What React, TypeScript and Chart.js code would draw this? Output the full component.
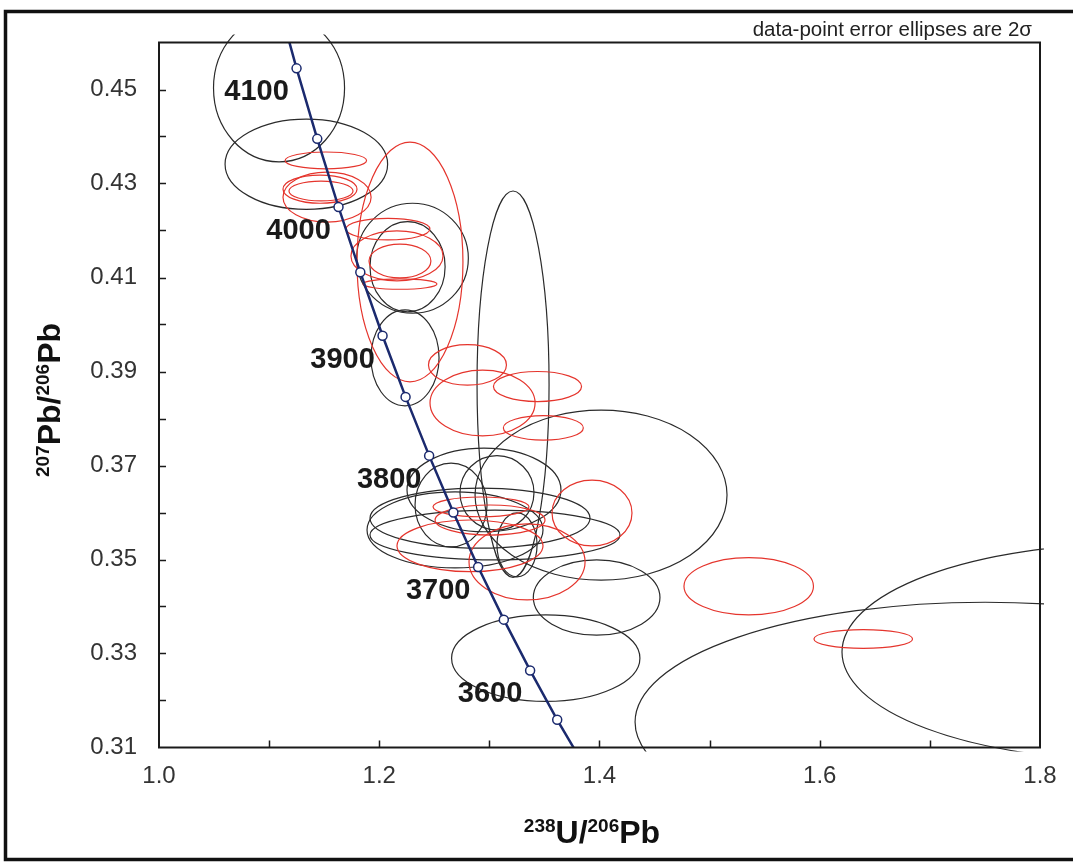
import React, { useEffect, useRef } from 'react';
import { Chart, registerables } from 'chart.js';

Chart.register(...registerables);

// Concordia curve (Tera-Wasserburg), ages in Ma
const CONCORDIA_AGES = [4150, 4100, 4050, 4000, 3950, 3900, 3850, 3800, 3750, 3700, 3650, 3600, 3550, 3500];
const CONCORDIA_X = [1.1066, 1.1249, 1.1437, 1.163, 1.1828, 1.203, 1.2239, 1.2453, 1.2673, 1.2898, 1.3131, 1.337, 1.3616, 1.3869];
const CONCORDIA_Y = [0.4701, 0.4545, 0.4395, 0.425, 0.4111, 0.3976, 0.3846, 0.3721, 0.36, 0.3484, 0.3372, 0.3264, 0.3159, 0.3058];
const LABELLED_AGES = [4100, 4000, 3900, 3800, 3700, 3600];

// Black error ellipses (centre, 2-sigma half axes)
const BLACK_X = [1.109, 1.1338, 1.2302, 1.2257, 1.2234, 1.3215, 1.4014, 1.3974, 1.3512, 1.7501, 1.8817, 1.2951, 1.3069, 1.2915, 1.3051, 1.2688, 1.3251, 1.2652];
const BLACK_Y = [0.4503, 0.4341, 0.4141, 0.4123, 0.3929, 0.3873, 0.3637, 0.3419, 0.329, 0.3154, 0.3303, 0.3648, 0.3642, 0.3588, 0.3552, 0.3563, 0.3531, 0.3616];
const BLACK_SX = [0.0595, 0.0738, 0.0507, 0.0341, 0.0309, 0.0327, 0.1144, 0.0575, 0.0855, 0.3178, 0.2615, 0.0699, 0.0336, 0.0999, 0.1135, 0.0799, 0.0182, 0.0327];
const BLACK_SY = [0.0157, 0.0096, 0.0117, 0.0096, 0.0102, 0.0411, 0.0181, 0.008, 0.0092, 0.0255, 0.023, 0.0089, 0.0079, 0.0064, 0.0053, 0.0081, 0.0068, 0.0089];

// Red error ellipses
const RED_X = [1.1515, 1.1462, 1.1471, 1.1526, 1.2279, 1.2079, 1.2161, 1.2188, 1.2188, 1.2801, 1.2938, 1.3437, 1.349, 1.3932, 1.2924, 1.2824, 1.3342, 1.3006, 1.5355, 1.6395];
const RED_Y = [0.4349, 0.4288, 0.4284, 0.4271, 0.4133, 0.4203, 0.4146, 0.4135, 0.4086, 0.3914, 0.3833, 0.3868, 0.378, 0.3599, 0.3612, 0.3529, 0.3495, 0.3584, 0.3443, 0.3331];
const RED_SX = [0.037, 0.0336, 0.0291, 0.04, 0.0481, 0.0381, 0.0418, 0.0281, 0.0336, 0.0354, 0.0477, 0.04, 0.0363, 0.0363, 0.0436, 0.0663, 0.0527, 0.0499, 0.0588, 0.0448];
const RED_SY = [0.0018, 0.003, 0.0021, 0.0053, 0.0255, 0.0023, 0.0053, 0.0036, 0.0011, 0.0043, 0.007, 0.0032, 0.0026, 0.007, 0.0021, 0.0055, 0.0081, 0.0032, 0.0061, 0.002];

const X_TICK_LABELS = ['1.0', '1.2', '1.4', '1.6', '1.8'];
const Y_TICK_LABELS = ['0.31', '0.33', '0.35', '0.37', '0.39', '0.41', '0.43', '0.45'];

const NOTE_TEXT = 'data-point error ellipses are 2\u03c3';
const FONT = '"Liberation Sans", Arial, sans-serif';

type Part = { t: string; sup?: boolean };
const X_TITLE: Part[] = [{ t: '238', sup: true }, { t: 'U/' }, { t: '206', sup: true }, { t: 'Pb' }];
const Y_TITLE: Part[] = [{ t: '207', sup: true }, { t: 'Pb/' }, { t: '206', sup: true }, { t: 'Pb' }];

function drawRich(ctx: CanvasRenderingContext2D, parts: Part[], cx: number, cy: number) {
  const main = `bold 32px ${FONT}`;
  const sup = `bold 19px ${FONT}`;
  let w = 0;
  for (const p of parts) {
    ctx.font = p.sup ? sup : main;
    w += ctx.measureText(p.t).width;
  }
  let xx = cx - w / 2;
  const base = cy + 11.5;
  ctx.textAlign = 'left';
  ctx.textBaseline = 'alphabetic';
  ctx.fillStyle = '#111';
  for (const p of parts) {
    ctx.font = p.sup ? sup : main;
    ctx.fillText(p.t, xx, p.sup ? base - 11 : base);
    xx += ctx.measureText(p.t).width;
  }
}

const ellipsePlugin = {
  id: 'errorEllipses',
  beforeDatasetsDraw(chart: any) {
    const { ctx, chartArea: a, scales } = chart;
    const xs = scales.x;
    const ys = scales.y;
    ctx.save();
    ctx.beginPath();
    ctx.rect(a.left - 4, a.top - 8, a.right - a.left + 8, a.bottom - a.top + 12);
    ctx.clip();
    const drawSet = (cx: number[], cy: number[], sx: number[], sy: number[], color: string) => {
      ctx.strokeStyle = color;
      ctx.lineWidth = 1.2;
      for (let i = 0; i < cx.length; i++) {
        const px = xs.getPixelForValue(cx[i]);
        const py = ys.getPixelForValue(cy[i]);
        const rx = Math.abs(xs.getPixelForValue(cx[i] + sx[i]) - px);
        const ry = Math.abs(ys.getPixelForValue(cy[i] + sy[i]) - py);
        ctx.beginPath();
        ctx.ellipse(px, py, rx, ry, 0, 0, Math.PI * 2);
        ctx.stroke();
      }
    };
    drawSet(BLACK_X, BLACK_Y, BLACK_SX, BLACK_SY, '#2b2b2b');
    drawSet(RED_X, RED_Y, RED_SX, RED_SY, '#e5352d');
    ctx.restore();
  },
};

const decorPlugin = {
  id: 'decor',
  afterDraw(chart: any) {
    const { ctx, chartArea: a, scales } = chart;
    const xs = scales.x;
    const ys = scales.y;
    ctx.save();
    // plot frame
    ctx.strokeStyle = '#1a1a1a';
    ctx.lineWidth = 2;
    ctx.strokeRect(a.left, a.top, a.right - a.left, a.bottom - a.top);
    // inward ticks
    ctx.lineWidth = 1.5;
    ctx.beginPath();
    for (const t of ys.ticks) {
      const py = Math.round(ys.getPixelForValue(t.value)) + 0.5;
      if (py < a.top + 2 || py > a.bottom - 2) continue;
      ctx.moveTo(a.left, py);
      ctx.lineTo(a.left + 7, py);
    }
    for (const t of xs.ticks) {
      const px = Math.round(xs.getPixelForValue(t.value)) + 0.5;
      if (px < a.left + 2 || px > a.right - 2) continue;
      ctx.moveTo(px, a.bottom);
      ctx.lineTo(px, a.bottom - 7);
    }
    ctx.stroke();
    // outer border
    ctx.lineWidth = 3.5;
    ctx.strokeStyle = '#111';
    ctx.strokeRect(5.5, 11.5, 1100, 848);
    // note
    ctx.fillStyle = '#222';
    ctx.font = `20.5px ${FONT}`;
    ctx.textAlign = 'right';
    ctx.textBaseline = 'alphabetic';
    ctx.fillText(NOTE_TEXT, 1032, 36);
    // age labels
    ctx.font = `bold 29px ${FONT}`;
    ctx.textAlign = 'center';
    ctx.textBaseline = 'middle';
    ctx.fillStyle = '#1a1a1a';
    for (const age of LABELLED_AGES) {
      const i = CONCORDIA_AGES.indexOf(age);
      const px = xs.getPixelForValue(CONCORDIA_X[i]);
      const py = ys.getPixelForValue(CONCORDIA_Y[i]);
      ctx.fillText(String(age), px - 40, py + 24);
    }
    // axis titles
    drawRich(ctx, X_TITLE, 592, 831);
    ctx.save();
    ctx.translate(48, 400);
    ctx.rotate(-Math.PI / 2);
    drawRich(ctx, Y_TITLE, 0, 0);
    ctx.restore();
    ctx.restore();
  },
};

export default function App() {
  const ref = useRef<HTMLCanvasElement>(null);
  useEffect(() => {
    const canvas = ref.current;
    if (!canvas) return;
    const chart = new Chart(canvas, {
      type: 'scatter',
      data: {
        datasets: [
          {
            label: 'Concordia',
            data: CONCORDIA_AGES.map((_, i) => ({ x: CONCORDIA_X[i], y: CONCORDIA_Y[i] })),
            showLine: true,
            borderColor: '#1b2a6e',
            borderWidth: 2.5,
            pointRadius: 4.5,
            pointBackgroundColor: '#ffffff',
            pointBorderColor: '#1b2a6e',
            pointBorderWidth: 1.5,
            tension: 0,
          },
        ],
      },
      options: {
        animation: false,
        responsive: false,
        devicePixelRatio: 1,
        layout: { padding: { left: 0, top: 42.5, right: 33, bottom: 0 } },
        plugins: { legend: { display: false }, tooltip: { enabled: false } },
        scales: {
          x: {
            type: 'linear',
            min: 1.0,
            max: 1.8,
            grid: { display: false, drawTicks: false },
            border: { display: false },
            ticks: {
              stepSize: 0.1,
              autoSkip: false,
              maxRotation: 0,
              padding: 14,
              color: '#333',
              font: { family: FONT, size: 24 },
              callback: (v: any) => {
                const s = Number(v).toFixed(1);
                return X_TICK_LABELS.includes(s) ? s : '';
              },
            },
            afterFit: (s: any) => {
              s.height = 114.5;
            },
          },
          y: {
            type: 'linear',
            min: 0.31,
            max: 0.46,
            grid: { display: false, drawTicks: false },
            border: { display: false },
            ticks: {
              stepSize: 0.01,
              autoSkip: false,
              padding: 22,
              color: '#333',
              font: { family: FONT, size: 24 },
              callback: (v: any) => {
                const s = Number(v).toFixed(2);
                return Y_TICK_LABELS.includes(s) ? s : '';
              },
            },
            afterFit: (s: any) => {
              s.width = 159;
            },
          },
        },
      },
      plugins: [ellipsePlugin, decorPlugin],
    });
    return () => chart.destroy();
  }, []);
  return (
    <div style={{ position: 'absolute', left: 0, top: 0, width: 1073, height: 862, background: '#fff', overflow: 'hidden' }}>
      <canvas ref={ref} width={1073} height={862} style={{ display: 'block', width: 1073, height: 862 }} />
    </div>
  );
}
